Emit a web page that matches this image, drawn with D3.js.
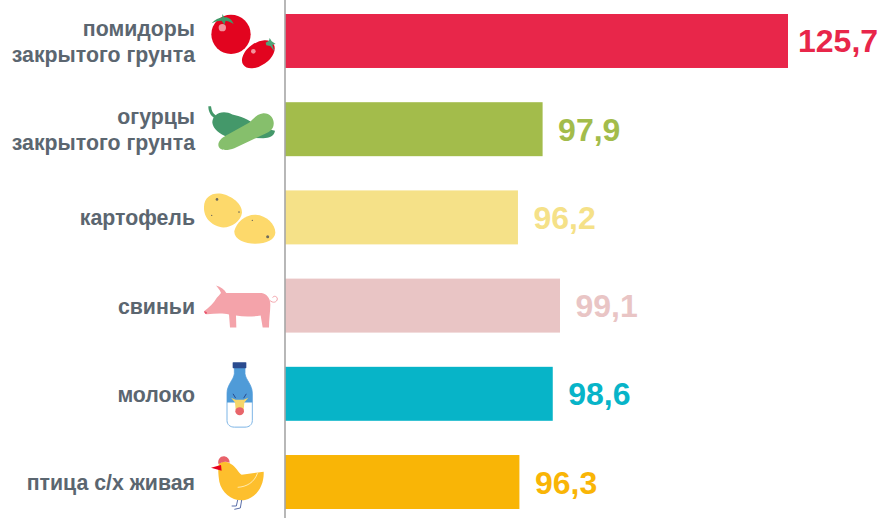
<!DOCTYPE html>
<html lang="ru"><head><meta charset="utf-8">
<script src="https://cdn.jsdelivr.net/npm/d3@7/dist/d3.min.js"></script>
<style>html,body{margin:0;padding:0;background:#fff;overflow:hidden}svg{display:block}</style>
</head><body><div id="chart"></div>
<script>
const categories = ["помидоры|закрытого грунта","огурцы|закрытого грунта","картофель","свиньи","молоко","птица с/х живая"];
const values = [125.7,97.9,96.2,99.1,98.6,96.3];
const colors = ["#E8264A","#A3BC4B","#F5E188","#E9C5C5","#07B4C8","#F9B506"];

const W=884,H=518,axisX=285;
const svg=d3.select("#chart").append("svg").attr("width",W).attr("height",H).attr("viewBox",`0 0 ${W} ${H}`);
const y=d3.scaleBand().domain(categories).range([14,509]).paddingInner(0.388).paddingOuter(0);
// the source chart is visibly non-proportional: truncated base and compressed upper segment
const x=d3.scaleLinear().domain([80.13,99.1,125.7]).range([0,275,503]);
const font="'Liberation Sans',Arial,sans-serif";

svg.selectAll("rect.bar").data(values).join("rect").attr("class","bar")
  .attr("x",axisX).attr("y",(d,i)=>y(categories[i])).attr("width",d=>x(d)).attr("height",y.bandwidth())
  .attr("fill",(d,i)=>colors[i]);

svg.append("line").attr("x1",axisX).attr("x2",axisX).attr("y1",0).attr("y2",H).attr("stroke","#a6a6a6").attr("stroke-width",1.6);

const maxV=d3.max(values);
svg.selectAll("text.val").data(values).join("text").attr("class","val")
  .attr("x",d=>axisX+x(d)+(d===maxV?10:15.5))
  .attr("y",(d,i)=>y(categories[i])+y.bandwidth()/2+11.5)
  .attr("font-family",font).attr("font-weight",700).attr("font-size",32)
  .attr("fill",(d,i)=>colors[i]).text(d=>d3.format(".1f")(d).replace(".",","));

const ax=svg.append("g").attr("transform",`translate(195,0)`).call(d3.axisLeft(y).tickSize(0).tickPadding(0));
ax.select(".domain").remove();
ax.selectAll("text").each(function(d){
  const t=d3.select(this),parts=d.split("|");t.text(null).attr("dy",null).attr("x",0)
    .attr("font-family",font).attr("font-weight",700).attr("font-size",21.3).attr("fill","#5B6670").attr("text-anchor","end");
  parts.forEach((p,i)=>t.append("tspan").attr("x",0).attr("y",(i-(parts.length-1)/2)*26+8).text(p));
});

// pictograms, drawn in a 3x local grid anchored to each band
function icon(i,dy){const c=y(categories[i])+y.bandwidth()/2;
  return svg.append("g").attr("transform",`translate(195,${c+dy}) scale(${1/3})`);}
const P=(g,d,f,extra={})=>{const p=g.append("path").attr("d",d).attr("fill",f);for(const k in extra)p.attr(k,extra[k]);return p;};

// tomatoes
let g=icon(0,-41);
g.append("circle").attr("cx",108).attr("cy",103).attr("r",59).attr("fill","#E2041F");
g.append("circle").attr("cx",82).attr("cy",83).attr("r",11).attr("fill","#F2939C");
P(g,"M50,70 C60,58 72,54 82,52 L82,42 L88,52 C98,50 110,56 116,72 C104,64 96,62 92,62 L88,74 L80,62 C70,62 60,64 50,70Z","#3F9A68");
g.append("ellipse").attr("transform","translate(190,163) rotate(-35)").attr("rx",55).attr("ry",34).attr("fill","#E2041F");
g.append("circle").attr("cx",175).attr("cy",154).attr("r",7).attr("fill","#F2939C");
P(g,"M212,128 L222,122 L224,114 L230,124 L242,132 L232,134 L238,154 L226,138 L214,136Z","#4FA578");

// cucumbers
g=icon(1,-129);
P(g,"M40,318 L48,318 C50,332 54,340 62,345 C72,335 95,333 112,343 C135,348 165,358 185,378 L240,392 C238,408 222,414 205,414 L100,412 C72,402 54,385 52,368 C52,360 54,356 56,352 C46,345 40,332 40,318Z","#44986A");
P(g,"M70,434 C70,420 84,410 100,402 L162,368 C175,358 182,342 205,339 C225,338 238,355 236,372 C235,386 225,394 212,400 L118,444 C96,453 70,452 70,434Z","#86BF6C");

// potatoes
g=icon(2,-38);
P(g,"M27,82 C28,52 52,38 80,43 C110,50 142,72 141,100 C138,125 110,144 85,144 C55,142 25,118 27,82Z","#FDD96B");
P(g,"M118,155 C124,130 150,105 182,106 C215,108 241,135 241,160 C240,180 215,193 180,193 C150,193 116,180 118,155Z","#FDD96B");
[[66,60,4],[132,98,2.5],[50,108,2],[218,172,4.5],[172,123,2]].forEach(d=>g.append("circle").attr("cx",d[0]).attr("cy",d[1]).attr("r",d[2]).attr("fill","#6E6A5C"));

// pig
g=icon(3,-126);
P(g,"M28,394 C42,384 55,372 66,354 C74,346 78,340 78,340 C74,330 68,324 63,318 C78,322 88,330 94,340 L200,340 C215,342 226,356 226,375 C226,395 222,420 222,444 L203,444 L197,408 C170,412 145,412 123,408 L124,444 L105,444 L102,405 C85,400 60,402 36,404 C30,402 27,398 28,394Z","#F4A3AA");
P(g,"M224,362 C234,372 246,368 247,358 C247,350 236,347 233,354","none",{stroke:"#F4A3AA","stroke-width":3});
P(g,"M28,394 L36,398 L34,404 C30,402 27,398 28,394Z","#E8506A");

// milk bottle
g=icon(4,-44);
P(g,"M118,52 L150,52 L150,72 C152,90 172,105 172,130 L172,212 C172,225 162,232 150,232 L118,232 C106,232 96,225 96,212 L96,130 C96,105 116,90 118,72Z","#FFFFFF",{stroke:"#7DB5E6","stroke-width":3});
P(g,"M118,52 L150,52 L150,72 C152,90 172,105 172,130 L172,158 L96,158 L96,130 C96,105 116,90 118,72Z","#4F9BD8");
g.append("rect").attr("x",113).attr("y",37).attr("width",41).attr("height",18).attr("rx",2).attr("fill","#2A4B8F");
P(g,"M122,145 L114,132 M146,145 L154,132","none",{stroke:"#2A4B8F","stroke-width":3});
P(g,"M108,144 L122,150 L146,150 L160,144 L148,158 L146,180 C142,196 126,196 122,180 L120,158Z","#F5D66B");
g.append("ellipse").attr("cx",134).attr("cy",184).attr("rx",13).attr("ry",12).attr("fill","#E8656A");

// chicken
g=icon(5,-132);
P(g,"M72,340 C90,328 112,340 125,358 C133,368 135,372 140,374 L206,365 C208,400 190,440 150,450 C115,456 80,430 73,395 C70,375 68,355 72,340Z","#FDBF2D");
P(g,"M70,342 C68,328 76,318 88,319 C98,321 104,328 104,338 C90,332 80,336 70,342Z","#E8626A");
P(g,"M48,353 L78,345 L80,362Z","#E8001C");
P(g,"M128,412 C155,410 178,398 188,368","none",{stroke:"#FFF3C8","stroke-width":2.5});
P(g,"M128,450 L124,468 L110,468 M140,450 L136,474 L118,478","none",{stroke:"#5A6EA8","stroke-width":3});
</script></body></html>
